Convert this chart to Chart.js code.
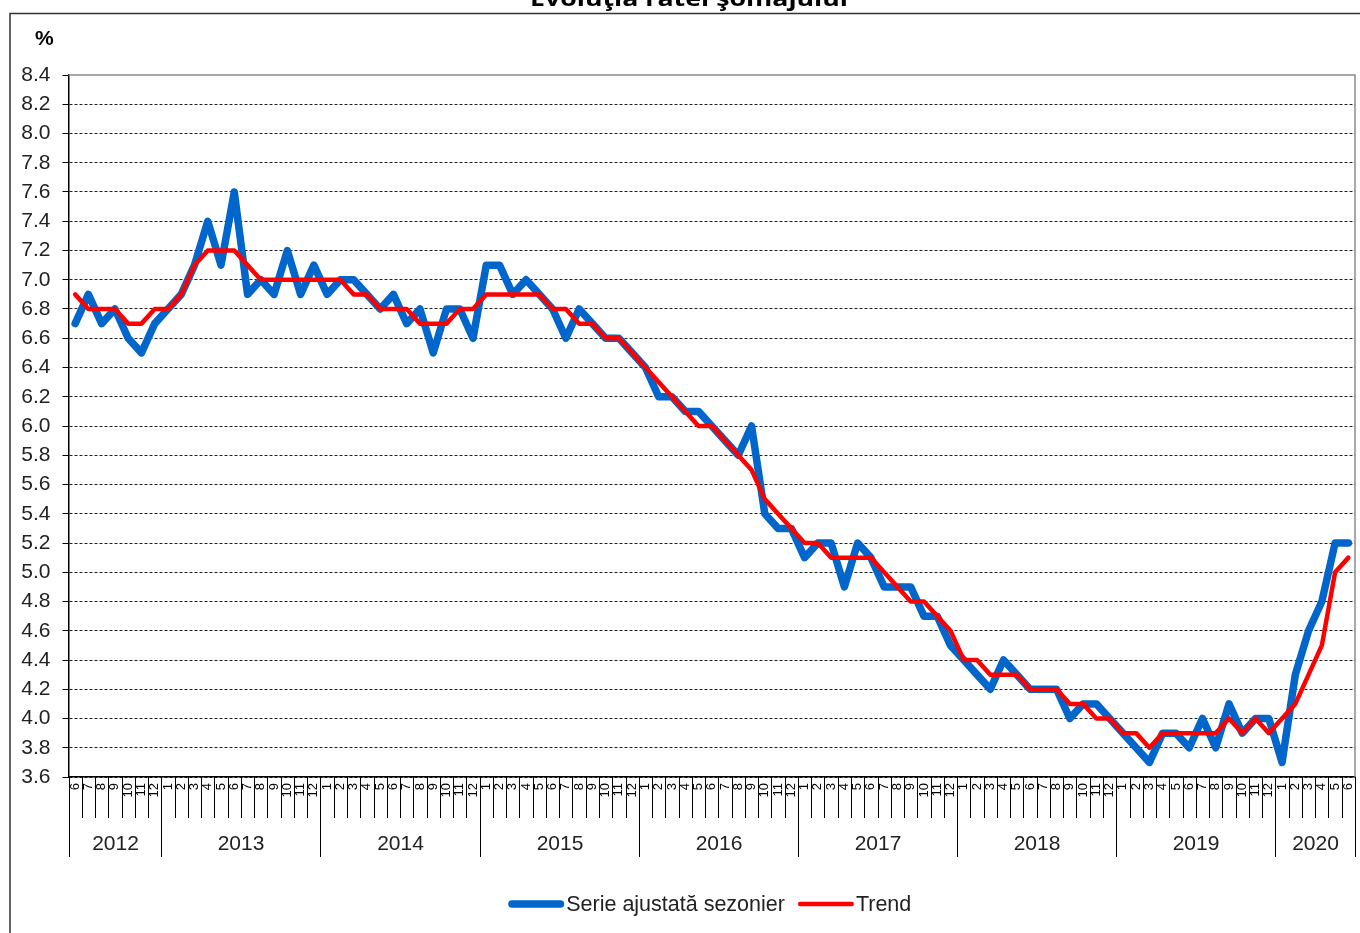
<!DOCTYPE html>
<html>
<head>
<meta charset="utf-8">
<script src="https://cdn.jsdelivr.net/npm/chart.js@4.4.1/dist/chart.umd.min.js"></script>
<style>
  html, body { margin: 0; padding: 0; background: #fff; }
  #wrap { position: relative; width: 1360px; height: 933px; }
</style>
</head>
<body>
<div id="wrap"><canvas id="somaj-chart" width="1360" height="933"></canvas></div>
<script>
// month labels, Jun 2012 .. Jun 2020
var months = [
  '6','7','8','9','10','11','12',
  '1','2','3','4','5','6','7','8','9','10','11','12',
  '1','2','3','4','5','6','7','8','9','10','11','12',
  '1','2','3','4','5','6','7','8','9','10','11','12',
  '1','2','3','4','5','6','7','8','9','10','11','12',
  '1','2','3','4','5','6','7','8','9','10','11','12',
  '1','2','3','4','5','6','7','8','9','10','11','12',
  '1','2','3','4','5','6','7','8','9','10','11','12',
  '1','2','3','4','5','6'
];
var years = ['2012','2013','2014','2015','2016','2017','2018','2019','2020'];

var serieAjustata = [
  6.7, 6.9, 6.7, 6.8, 6.6, 6.5, 6.7,
  6.8, 6.9, 7.1, 7.4, 7.1, 7.6, 6.9, 7.0, 6.9, 7.2, 6.9, 7.1,
  6.9, 7.0, 7.0, 6.9, 6.8, 6.9, 6.7, 6.8, 6.5, 6.8, 6.8, 6.6,
  7.1, 7.1, 6.9, 7.0, 6.9, 6.8, 6.6, 6.8, 6.7, 6.6, 6.6, 6.5,
  6.4, 6.2, 6.2, 6.1, 6.1, 6.0, 5.9, 5.8, 6.0, 5.4, 5.3, 5.3,
  5.1, 5.2, 5.2, 4.9, 5.2, 5.1, 4.9, 4.9, 4.9, 4.7, 4.7, 4.5,
  4.4, 4.3, 4.2, 4.4, 4.3, 4.2, 4.2, 4.2, 4.0, 4.1, 4.1, 4.0,
  3.9, 3.8, 3.7, 3.9, 3.9, 3.8, 4.0, 3.8, 4.1, 3.9, 4.0, 4.0,
  3.7, 4.3, 4.6, 4.8, 5.2, 5.2
];
var trend = [
  6.9, 6.8, 6.8, 6.8, 6.7, 6.7, 6.8,
  6.8, 6.9, 7.1, 7.2, 7.2, 7.2, 7.1, 7.0, 7.0, 7.0, 7.0, 7.0,
  7.0, 7.0, 6.9, 6.9, 6.8, 6.8, 6.8, 6.7, 6.7, 6.7, 6.8, 6.8,
  6.9, 6.9, 6.9, 6.9, 6.9, 6.8, 6.8, 6.7, 6.7, 6.6, 6.6, 6.5,
  6.4, 6.3, 6.2, 6.1, 6.0, 6.0, 5.9, 5.8, 5.7, 5.5, 5.4, 5.3,
  5.2, 5.2, 5.1, 5.1, 5.1, 5.1, 5.0, 4.9, 4.8, 4.8, 4.7, 4.6,
  4.4, 4.4, 4.3, 4.3, 4.3, 4.2, 4.2, 4.2, 4.1, 4.1, 4.0, 4.0,
  3.9, 3.9, 3.8, 3.9, 3.9, 3.9, 3.9, 3.9, 4.0, 3.9, 4.0, 3.9,
  4.0, 4.1, 4.3, 4.5, 5.0, 5.1
];

var yMin = 3.6;
var yMax = 8.4;
var yStep = 0.2;

var titleText = 'Evoluţia ratei şomajului';
var unitText = '%';

// frame, title, x axis (months + years) and legend, drawn by hand like the excel original
var decor = {
  id: 'decor',
  beforeDraw: function(chart) {
    var ctx = chart.ctx;
    ctx.save();
    ctx.strokeStyle = '#333';
    ctx.lineWidth = 1.5;
    ctx.strokeRect(10, 13.5, 1400, 1000);
    ctx.restore();
  },
  beforeDatasetsDraw: function(chart) {
    var ctx = chart.ctx, a = chart.chartArea;
    ctx.save();
    ctx.strokeStyle = '#8c8c8c';
    ctx.lineWidth = 1.5;
    ctx.beginPath();
    ctx.moveTo(a.left, a.top);
    ctx.lineTo(a.right, a.top);
    ctx.lineTo(a.right, a.bottom);
    ctx.stroke();
    ctx.restore();
  },
  afterDraw: function(chart) {
    var ctx = chart.ctx, a = chart.chartArea, x = chart.scales.x;
    var step = x.getPixelForValue(1) - x.getPixelForValue(0);
    function edge(i) { return Math.round(x.getPixelForValue(0) + (i - 0.5) * step) + 0.5; }

    ctx.save();
    ctx.strokeStyle = '#000';
    ctx.lineWidth = 1;
    ctx.fillStyle = '#000';
    ctx.font = '13px Arial, "Liberation Sans"';

    var yearEdges = [];
    for (var i = 0; i <= months.length; i++) {
      var bx = edge(i);
      var isYear = (i === 0 || i === months.length || months[i] === '1');
      if (isYear) yearEdges.push(bx);
      ctx.beginPath();
      ctx.moveTo(bx, a.bottom);
      ctx.lineTo(bx, a.bottom + (isYear ? 80 : 41));
      ctx.stroke();
    }

    // month numbers, rotated
    ctx.textAlign = 'right';
    ctx.textBaseline = 'middle';
    for (var j = 0; j < months.length; j++) {
      ctx.save();
      ctx.translate(x.getPixelForValue(j), a.bottom + 6);
      ctx.rotate(-Math.PI / 2);
      ctx.fillText(months[j], 0, 0);
      ctx.restore();
    }

    // years
    ctx.fillStyle = '#222';
    ctx.font = '21px Arial, "Liberation Sans"';
    ctx.textAlign = 'center';
    for (var k = 0; k < years.length; k++) {
      ctx.fillText(years[k], (yearEdges[k] + yearEdges[k + 1]) / 2, a.bottom + 67);
    }

    // unit
    ctx.font = 'bold 21px Arial, "Liberation Sans"';
    ctx.fillStyle = '#000';
    ctx.textAlign = 'left';
    ctx.fillText(unitText, 35, 39);

    // title (cut by the top edge)
    ctx.font = 'bold 22px "Open Sans"';
    ctx.textAlign = 'center';
    ctx.textBaseline = 'alphabetic';
    var tw = ctx.measureText(titleText).width;
    ctx.save();
    ctx.translate(689, 6);
    ctx.scale(318 / tw, 1);
    ctx.fillText(titleText, 0, 0);
    ctx.restore();

    // legend
    var ds = chart.data.datasets;
    ctx.font = '21.5px Arial, "Liberation Sans"';
    ctx.textBaseline = 'middle';
    ctx.textAlign = 'left';
    var lineLen = 56, gapText = 2, gapItem = 13;
    var total = 0;
    ds.forEach(function(d, n) {
      total += lineLen + gapText + ctx.measureText(d.label).width + (n < ds.length - 1 ? gapItem : 0);
    });
    var lx = (a.left + a.right) / 2 - total / 2 - 2;
    var ly = 904;
    ds.forEach(function(d) {
      ctx.strokeStyle = d.borderColor;
      ctx.lineWidth = d.borderWidth;
      ctx.lineCap = 'round';
      ctx.beginPath();
      ctx.moveTo(lx + d.borderWidth / 2, ly);
      ctx.lineTo(lx + lineLen - d.borderWidth / 2, ly);
      ctx.stroke();
      lx += lineLen + gapText;
      ctx.fillStyle = '#222';
      ctx.fillText(d.label, lx, ly + 1);
      lx += ctx.measureText(d.label).width + gapItem;
    });
    ctx.restore();
  }
};

var ctx = document.getElementById('somaj-chart').getContext('2d');
var chart = new Chart(ctx, {
  type: 'line',
  data: {
    labels: months,
    datasets: [{
      label: 'Serie ajustată sezonier',
      data: serieAjustata,
      borderColor: '#0066CC',
      borderWidth: 7.5,
      borderJoinStyle: 'round',
      borderCapStyle: 'round',
      pointRadius: 0,
      tension: 0,
      order: 2
    }, {
      label: 'Trend',
      data: trend,
      borderColor: '#FF0000',
      borderWidth: 4.5,
      borderJoinStyle: 'round',
      borderCapStyle: 'round',
      pointRadius: 0,
      tension: 0,
      order: 1
    }]
  },
  options: {
    responsive: false,
    animation: false,
    devicePixelRatio: 1,
    layout: {
      padding: { left: 10, right: 5, top: 75, bottom: 76 }
    },
    plugins: {
      legend: { display: false },
      tooltip: { enabled: false },
      title: { display: false }
    },
    scales: {
      x: {
        offset: true,
        grid: { display: false },
        ticks: { display: false },
        border: { display: true, color: '#000', width: 1.5 },
        afterFit: function(s) { s.height = 80; }
      },
      y: {
        min: yMin,
        max: yMax,
        afterFit: function(s) { s.width = 58.5; },
        border: { display: true, color: '#000', width: 1.5, dash: [3, 2] },
        grid: {
          color: function(c) {
            return (c.tick && Math.abs(c.tick.value - yMax) < 1e-6) ? 'rgba(0,0,0,0)' : '#222';
          },
          lineWidth: 1,
          drawTicks: true,
          tickLength: 6,
          tickColor: '#000',
          tickWidth: 1
        },
        ticks: {
          stepSize: yStep,
          padding: 12,
          color: '#222',
          font: { size: 21, family: 'Arial, "Liberation Sans"' },
          callback: function(v) { return Number(v).toFixed(1); }
        }
      }
    }
  },
  plugins: [decor]
});
</script>
</body>
</html>
